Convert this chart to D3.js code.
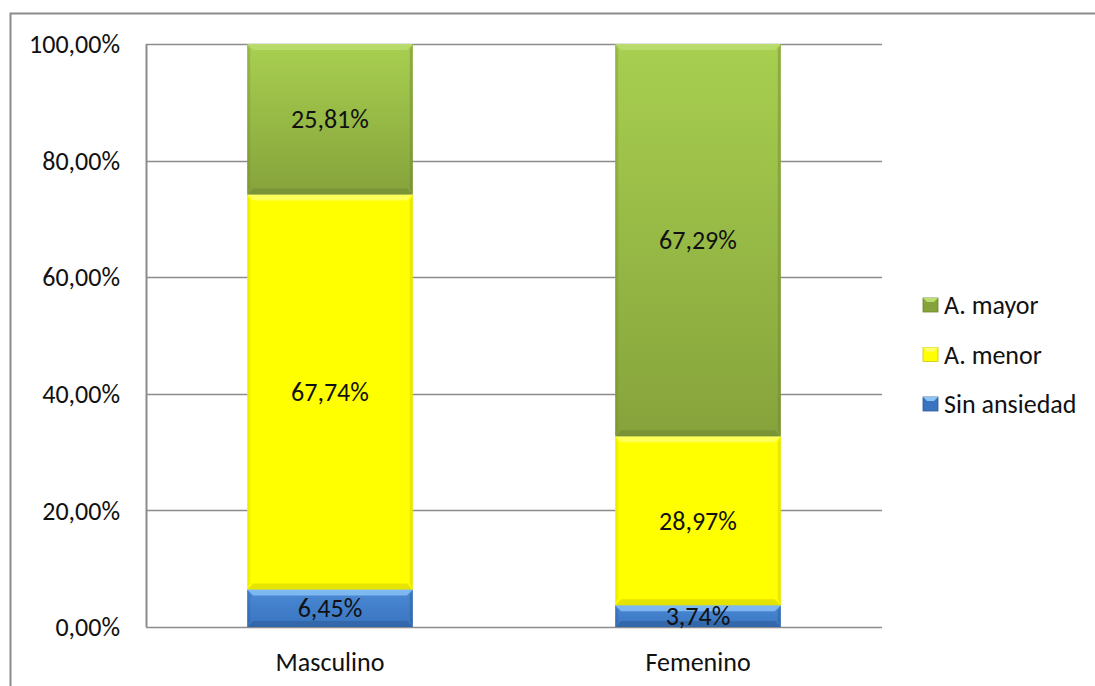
<!DOCTYPE html>
<html>
<head>
<meta charset="utf-8">
<script src="https://cdn.jsdelivr.net/npm/d3@7"></script>
<style>
  body { margin: 0; background: #fff; }
  svg { display: block; font-family: Calibri, Carlito, Lato, "Open Sans", sans-serif; }
</style>
</head>
<body>
<div id="chart"></div>
<script>
// data
var categories = ["Masculino", "Femenino"];
var seriesNames = ["Sin ansiedad", "A. menor", "A. mayor"];
var sinAnsiedad = [6.45, 3.74];
var aMenor = [67.74, 28.97];
var aMayor = [25.81, 67.29];
var yTicks = [0, 20, 40, 60, 80, 100];

var width = 1095, height = 686;
var margin = {left: 146, right: 213, top: 44, bottom: 59};
var fontSize = 26;

var svg = d3.select('#chart').append('svg')
    .attr('width', width)
    .attr('height', height);

// outer chart frame (cut off on right/bottom)
svg.append('rect')
    .attr('x', 10.5).attr('y', 13.5)
    .attr('width', width + 20).attr('height', height + 20)
    .attr('fill', '#fff')
    .attr('stroke', '#8c8c8c')
    .attr('stroke-width', 2);

var colors = {
  "Sin ansiedad": {top: "#4a8ad6", bottom: "#3a74bf", hi: "#8cc4f6", dark: "#2c5a96"},
  "A. menor": {top: "#ffff00", bottom: "#ffff00", hi: "#ffff70", dark: "#c9c900"},
  "A. mayor": {top: "#a8cf50", bottom: "#86a33b", hi: "#bcdd70", dark: "#6b8430"}
};

var defs = svg.append('defs');
seriesNames.forEach(function(k, i){
  var grad = defs.append('linearGradient')
      .attr('id', 'grad' + i)
      .attr('x1', 0).attr('y1', 0).attr('x2', 0).attr('y2', 1);
  grad.append('stop').attr('offset', '0%').attr('stop-color', colors[k].top);
  grad.append('stop').attr('offset', '100%').attr('stop-color', colors[k].bottom);
});

var x = d3.scaleBand()
    .domain(categories)
    .range([margin.left, width - margin.right])
    .paddingInner(0.55)
    .paddingOuter(0.275);

var y = d3.scaleLinear()
    .domain([0, 100])
    .range([height - margin.bottom, margin.top]);

// gridlines
svg.append('g')
  .selectAll('line')
  .data(yTicks)
  .enter().append('line')
    .attr('x1', margin.left)
    .attr('x2', width - margin.right)
    .attr('y1', function(d){ return Math.round(y(d)) + 0.5; })
    .attr('y2', function(d){ return Math.round(y(d)) + 0.5; })
    .attr('stroke', '#8c8c8c')
    .attr('stroke-width', 1.5);

// left axis line
svg.append('line')
    .attr('x1', margin.left + 0.5).attr('x2', margin.left + 0.5)
    .attr('y1', y(100)).attr('y2', y(0))
    .attr('stroke', '#8c8c8c')
    .attr('stroke-width', 2);

// y tick labels
svg.append('g')
  .selectAll('text')
  .data(yTicks)
  .enter().append('text')
    .attr('x', 120)
    .attr('y', function(d){ return y(d); })
    .attr('dy', '0.35em')
    .attr('text-anchor', 'end')
    .attr('font-size', fontSize)
    .attr('fill', '#111')
    .text(function(d){ return d3.format('.2f')(d).replace('.', ',') + '%'; });

// build stack
var table = categories.map(function(c, i){
  return {cat: c, "Sin ansiedad": sinAnsiedad[i], "A. menor": aMenor[i], "A. mayor": aMayor[i]};
});
var stacked = d3.stack().keys(seriesNames)(table);

var bevel = 6;
var labels = svg.append('g');

stacked.forEach(function(layer, li){
  var c = colors[layer.key];
  var g = svg.insert('g', 'g:last-child');
  layer.forEach(function(d){
    var x0 = x(d.data.cat), w = x.bandwidth();
    var yTop = y(d[1]), yBot = y(d[0]);
    var h = yBot - yTop;
    var b = Math.min(bevel, h / 3);
    // body
    g.append('rect')
      .attr('x', x0).attr('y', yTop)
      .attr('width', w).attr('height', h)
      .attr('fill', 'url(#grad' + li + ')');
    // top highlight
    g.append('polygon')
      .attr('points', [[x0, yTop], [x0 + w, yTop], [x0 + w - b, yTop + b], [x0 + b, yTop + b]].join(' '))
      .attr('fill', c.hi)
      .attr('opacity', 0.8);
    // bottom shade
    g.append('polygon')
      .attr('points', [[x0, yBot], [x0 + w, yBot], [x0 + w - b, yBot - b], [x0 + b, yBot - b]].join(' '))
      .attr('fill', c.dark)
      .attr('opacity', 0.5);
    // side shading
    g.append('polygon')
      .attr('points', [[x0, yTop], [x0 + b * 0.5, yTop + b], [x0 + b * 0.5, yBot - b], [x0, yBot]].join(' '))
      .attr('fill', c.dark).attr('opacity', 0.3);
    g.append('polygon')
      .attr('points', [[x0 + w, yTop], [x0 + w - b * 0.5, yTop + b], [x0 + w - b * 0.5, yBot - b], [x0 + w, yBot]].join(' '))
      .attr('fill', c.dark).attr('opacity', 0.45);
    // value label
    var v = d[1] - d[0];
    labels.append('text')
      .attr('x', x0 + w / 2)
      .attr('y', (yTop + yBot) / 2)
      .attr('dy', '0.35em')
      .attr('text-anchor', 'middle')
      .attr('font-size', fontSize)
      .attr('fill', '#111')
      .text(d3.format('.2f')(v).replace('.', ',') + '%');
  });
});
labels.raise();

// category labels
svg.append('g')
  .selectAll('text')
  .data(categories)
  .enter().append('text')
    .attr('x', function(d){ return x(d) + x.bandwidth() / 2; })
    .attr('y', 662)
    .attr('dy', '0.35em')
    .attr('text-anchor', 'middle')
    .attr('font-size', fontSize)
    .attr('fill', '#111')
    .text(function(d){ return d; });

// legend (reverse order, top = A. mayor)
var legend = svg.append('g').selectAll('g')
    .data(seriesNames.slice().reverse())
    .enter().append('g')
    .attr('transform', function(d, i){ return 'translate(923,' + (305 + i * 49.5) + ')'; });

legend.append('rect')
    .attr('x', 0).attr('y', -7)
    .attr('width', 15).attr('height', 14)
    .attr('fill', function(d){ return colors[d].bottom; })
    .attr('stroke', function(d){ return colors[d].dark; })
    .attr('stroke-width', 0.8);
legend.append('polygon')
    .attr('points', '0,-7 15,-7 11,-3 4,-3')
    .attr('fill', function(d){ return colors[d].hi; });

legend.append('text')
    .attr('x', 21)
    .attr('dy', '0.35em')
    .attr('font-size', fontSize)
    .attr('fill', '#111')
    .text(function(d){ return d; });
</script>
</body>
</html>
